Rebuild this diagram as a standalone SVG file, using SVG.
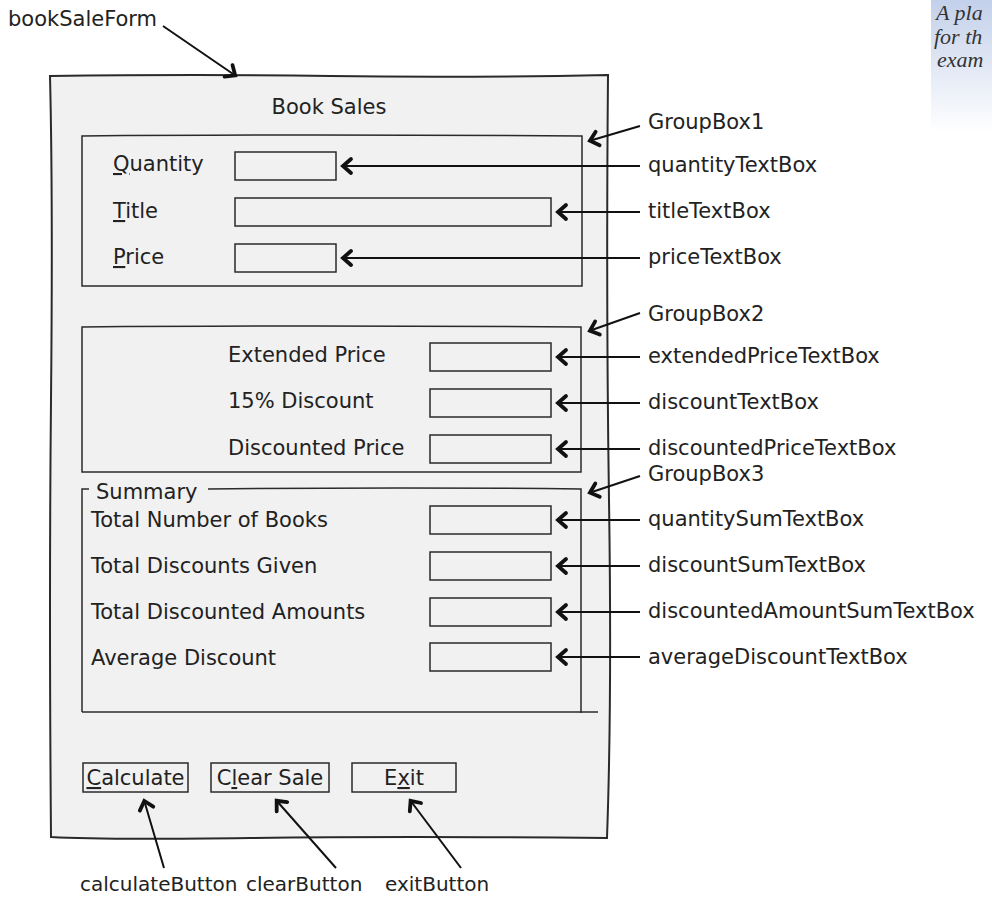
<svg xmlns="http://www.w3.org/2000/svg" width="992" height="920" viewBox="0 0 992 920">
<style>
text{font-family:"DejaVu Sans","Liberation Sans",sans-serif;font-size:21px;fill:#222}
.cap{font-family:"Liberation Serif",serif;font-style:italic;font-size:22px;fill:#333}
.bl{font-size:20px}
.form{fill:#f1f1f1;stroke:#2a2a2a;stroke-width:2}
.grp{fill:none;stroke:#2a2a2a;stroke-width:1.5}
.tb{fill:#f1f1f1;stroke:#2a2a2a;stroke-width:1.5}
.con{fill:none;stroke:#111;stroke-width:2;marker-end:url(#ah)}
.u{text-decoration:underline}
</style>
<defs>
<marker id="ah" markerUnits="userSpaceOnUse" markerWidth="24" markerHeight="24" viewBox="-14 -12 16 24" refX="0" refY="0" orient="auto">
<path d="M-9,-7 L-1,0 L-9,7" fill="none" stroke="#111" stroke-width="3.8" stroke-linecap="round" stroke-linejoin="miter"/>
</marker>
<linearGradient id="capg" x1="0" y1="0" x2="0" y2="1">
<stop offset="0" stop-color="#c3d0ea"/>
<stop offset="1" stop-color="#ffffff"/>
</linearGradient>
</defs>

<g id="caption">
<rect x="931" y="0" width="61" height="132" fill="url(#capg)"/>
<text class="cap" x="936" y="20">A pla</text>
<text class="cap" x="934" y="44">for th</text>
<text class="cap" x="937" y="67">exam</text>
</g>

<g id="bookSaleForm">
<path class="form" d="M50,76 Q200,74 330,76 T608,75 Q606,300 609,500 T607,838 Q400,836 250,838 T51,837 Q49,600 51,400 T50,76 Z"/>
<text x="329" y="114" text-anchor="middle">Book Sales</text>
</g>

<g id="GroupBox1">
<path class="grp" d="M82,136 Q300,134 582,136 L582,286 Q300,287 82,286 Z"/>
<text x="113" y="171"><tspan class="u">Q</tspan>uantity</text>
<text x="113" y="218"><tspan class="u">T</tspan>itle</text>
<text x="113" y="264"><tspan class="u">P</tspan>rice</text>
</g>
<g id="quantityTextBox"><rect class="tb" x="235" y="152" width="101" height="28"/></g>
<g id="titleTextBox"><rect class="tb" x="235" y="198" width="316" height="28"/></g>
<g id="priceTextBox"><rect class="tb" x="235" y="244" width="101" height="28"/></g>

<g id="GroupBox2">
<path class="grp" d="M82,327 Q300,325 581,327 L581,472 Q300,473 82,472 Z"/>
<text x="228" y="362">Extended Price</text>
<text x="228" y="408">15% Discount</text>
<text x="228" y="455">Discounted Price</text>
</g>
<g id="extendedPriceTextBox"><rect class="tb" x="430" y="343" width="121" height="28"/></g>
<g id="discountTextBox"><rect class="tb" x="430" y="389" width="121" height="28"/></g>
<g id="discountedPriceTextBox"><rect class="tb" x="430" y="435" width="121" height="28"/></g>

<g id="GroupBox3">
<path class="grp" d="M89,489 L82,489 L82,712"/>
<path class="grp" d="M208,489 Q400,487 581,489 L581,713"/>
<path class="grp" d="M82,712 Q350,711 598,712"/>
<text x="96" y="499">Summary</text>
<text x="91" y="527">Total Number of Books</text>
<text x="91" y="573">Total Discounts Given</text>
<text x="91" y="619">Total Discounted Amounts</text>
<text x="91" y="665">Average Discount</text>
</g>
<g id="quantitySumTextBox"><rect class="tb" x="430" y="506" width="121" height="28"/></g>
<g id="discountSumTextBox"><rect class="tb" x="430" y="552" width="121" height="28"/></g>
<g id="discountedAmountSumTextBox"><rect class="tb" x="430" y="598" width="121" height="28"/></g>
<g id="averageDiscountTextBox"><rect class="tb" x="430" y="643" width="121" height="28"/></g>

<g id="calculateButton"><rect class="tb" x="83" y="763" width="105" height="29"/><text x="135.5" y="785" text-anchor="middle"><tspan class="u">C</tspan>alculate</text></g>
<g id="clearButton"><rect class="tb" x="211" y="763" width="118" height="29"/><text x="270" y="785" text-anchor="middle">C<tspan class="u">l</tspan>ear Sale</text></g>
<g id="exitButton"><rect class="tb" x="352" y="763" width="104" height="29"/><text x="404" y="785" text-anchor="middle">E<tspan class="u">x</tspan>it</text></g>

<g id="labels">
<text x="8" y="26">bookSaleForm</text>
<text x="648" y="129">GroupBox1</text>
<text x="648" y="172">quantityTextBox</text>
<text x="648" y="218">titleTextBox</text>
<text x="648" y="264">priceTextBox</text>
<text x="648" y="321">GroupBox2</text>
<text x="648" y="363">extendedPriceTextBox</text>
<text x="648" y="409">discountTextBox</text>
<text x="648" y="455">discountedPriceTextBox</text>
<text x="648" y="481">GroupBox3</text>
<text x="648" y="526">quantitySumTextBox</text>
<text x="648" y="572">discountSumTextBox</text>
<text x="648" y="618">discountedAmountSumTextBox</text>
<text x="648" y="664">averageDiscountTextBox</text>
<text class="bl" x="80" y="891">calculateButton</text>
<text class="bl" x="246" y="891">clearButton</text>
<text class="bl" x="385" y="891">exitButton</text>
</g>

<g id="connectors">
<path class="con" d="M163,26 L236,76"/>
<path class="con" d="M640,126 L589,141"/>
<path class="con" d="M640,166 L342,166"/>
<path class="con" d="M640,212 L557,212"/>
<path class="con" d="M640,258 L342,258"/>
<path class="con" d="M640,313 L589,331"/>
<path class="con" d="M640,357 L557,357"/>
<path class="con" d="M640,403 L557,403"/>
<path class="con" d="M640,449 L557,449"/>
<path class="con" d="M640,476 L589,493"/>
<path class="con" d="M640,520 L557,520"/>
<path class="con" d="M640,566 L557,566"/>
<path class="con" d="M640,612 L557,612"/>
<path class="con" d="M640,657 L557,657"/>
<path class="con" d="M164,868 L144,800"/>
<path class="con" d="M336,868 L276,800"/>
<path class="con" d="M461,868 L410,800"/>
</g>
</svg>
